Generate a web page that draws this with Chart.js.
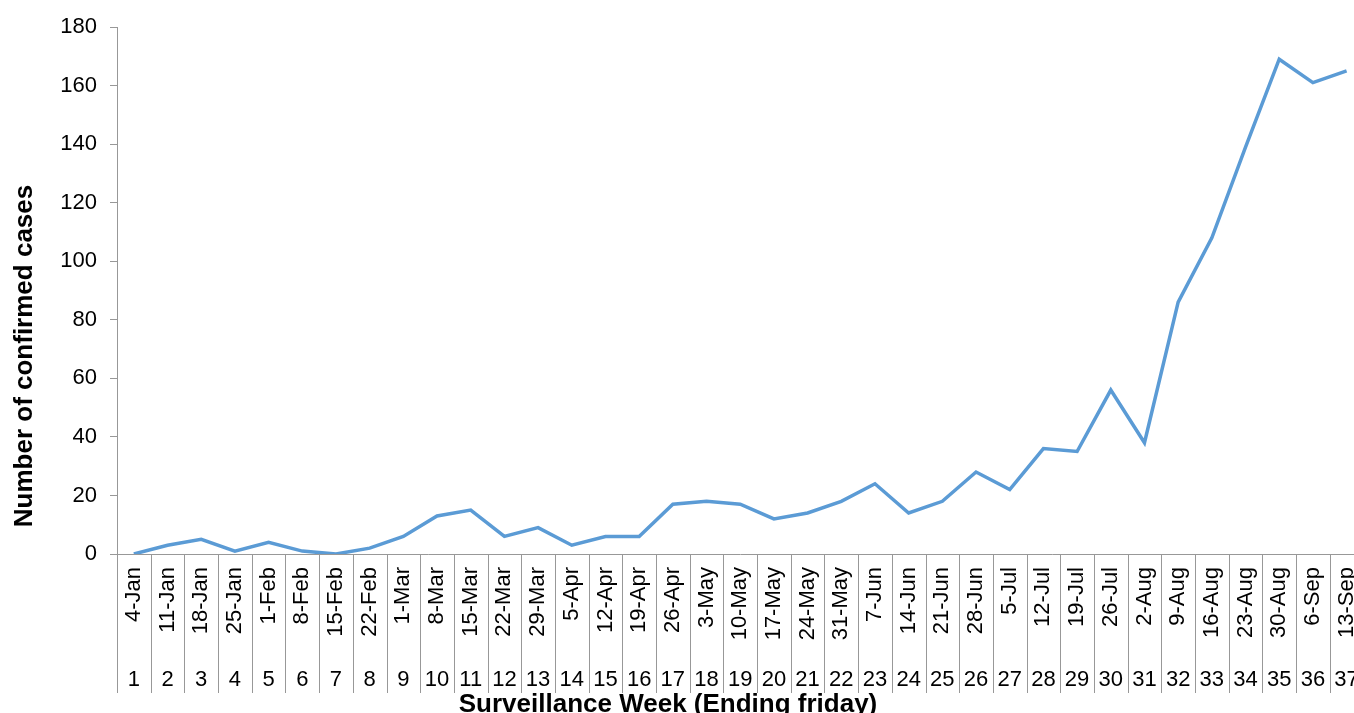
<!DOCTYPE html>
<html>
<head>
<meta charset="utf-8">
<script src="https://cdn.jsdelivr.net/npm/chart.js@4"></script>
<style>
  html, body { margin: 0; padding: 0; overflow: hidden; background: #fff; }
  #wrap { width: 1386px; height: 713px; position: relative; }
</style>
</head>
<body>
<div id="wrap"><canvas id="c"></canvas></div>
<script>
const weekEnding = ['4-Jan','11-Jan','18-Jan','25-Jan','1-Feb','8-Feb','15-Feb','22-Feb','1-Mar','8-Mar','15-Mar','22-Mar','29-Mar','5-Apr','12-Apr','19-Apr','26-Apr','3-May','10-May','17-May','24-May','31-May','7-Jun','14-Jun','21-Jun','28-Jun','5-Jul','12-Jul','19-Jul','26-Jul','2-Aug','9-Aug','16-Aug','23-Aug','30-Aug','6-Sep','13-Sep'];
const weekNumbers = ['1','2','3','4','5','6','7','8','9','10','11','12','13','14','15','16','17','18','19','20','21','22','23','24','25','26','27','28','29','30','31','32','33','34','35','36','37'];
const confirmedCases = [0,3,5,1,4,1,0,2,6,13,15,6,9,3,6,6,17,18,17,12,14,18,24,14,18,28,22,36,35,56,38,86,108,139,169,161,165];
const yTitle = 'Number of confirmed cases';
const xTitle = 'Surveillance Week (Ending friday)';

const FONT = "'Liberation Sans', Arial, sans-serif";
const AXIS = '#989898';

const extras = {
  id: 'extras',
  afterDraw(chart) {
    const ctx = chart.ctx;
    const xs = chart.scales.x;
    const area = chart.chartArea;
    const step = xs.getPixelForValue(1) - xs.getPixelForValue(0);
    ctx.save();
    ctx.strokeStyle = AXIS;
    ctx.lineWidth = 1;
    for (let i = 0; i <= weekEnding.length; i++) {
      const px = Math.round(xs.getPixelForValue(i) - step / 2) + 0.5;
      ctx.beginPath();
      ctx.moveTo(px, area.bottom);
      ctx.lineTo(px, 693);
      ctx.stroke();
    }
    ctx.fillStyle = '#000';
    ctx.font = "bold 26px " + FONT;
    ctx.textAlign = 'center';
    ctx.textBaseline = 'alphabetic';
    ctx.fillText(xTitle, 668, 712);
    ctx.translate(32, 356);
    ctx.rotate(-Math.PI / 2);
    ctx.fillText(yTitle, 0, 0);
    ctx.restore();
  }
};

new Chart(document.getElementById('c'), {
  type: 'line',
  data: {
    labels: weekEnding,
    datasets: [{
      data: confirmedCases,
      borderColor: '#5B9BD5',
      borderWidth: 3.5,
      pointRadius: 0,
      tension: 0,
      fill: false
    }]
  },
  options: {
    responsive: true,
    maintainAspectRatio: false,
    animation: false,
    layout: { padding: { top: 27, left: 0, right: 0, bottom: 0 } },
    plugins: { legend: { display: false }, tooltip: { enabled: false } },
    scales: {
      x: {
        type: 'category',
        position: 'bottom',
        weight: 0,
        offset: true,
        grid: { display: false, drawTicks: false },
        border: { display: true, color: AXIS, width: 1 },
        ticks: {
          autoSkip: false, minRotation: 90, maxRotation: 90,
          padding: 13, color: '#000', font: { family: FONT, size: 22 }
        },
        afterFit(s) { s.height = 100; }
      },
      xw: {
        type: 'category',
        labels: weekNumbers,
        position: 'bottom',
        weight: 1,
        offset: true,
        grid: { display: false, drawTicks: false },
        border: { display: false },
        ticks: {
          autoSkip: false, maxRotation: 0, minRotation: 0,
          padding: 13, color: '#000', font: { family: FONT, size: 22 }
        },
        afterFit(s) { s.height = 59; }
      },
      y: {
        min: 0, max: 180,
        ticks: { stepSize: 20, padding: 13, color: '#000', font: { family: FONT, size: 22 } },
        grid: { display: true, drawOnChartArea: false, drawTicks: true, tickLength: 7, color: AXIS },
        border: { display: true, color: AXIS, width: 1 },
        afterFit(s) { s.width = 117; }
      }
    }
  },
  plugins: [extras]
});
</script>
</body>
</html>
